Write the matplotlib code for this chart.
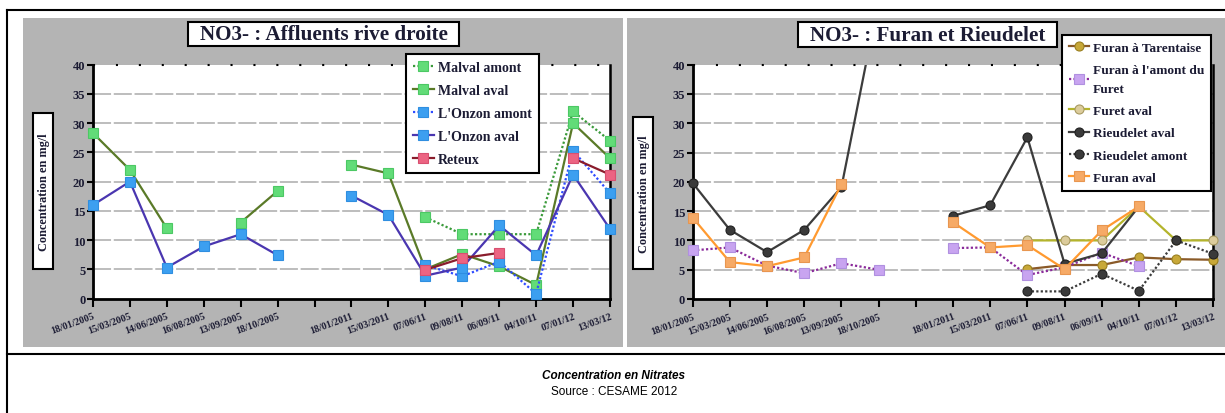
import numpy as np
import matplotlib
matplotlib.use('Agg')
import matplotlib.pyplot as plt
from matplotlib.patches import Rectangle
from matplotlib.lines import Line2D
from matplotlib.transforms import Bbox, TransformedBbox

nan = np.nan

categories = ['18/01/2005', '15/03/2005', '14/06/2005', '16/08/2005', '13/09/2005',
              '18/10/2005', '', '18/01/2011', '15/03/2011', '07/06/11', '09/08/11',
              '06/09/11', '04/10/11', '07/01/12', '13/03/12']

# Left chart: NO3- : Affluents rive droite
malval_amont = [nan, nan, nan, nan, nan, nan, nan, nan, nan, 13.9, 11.0, 11.0, 11.0, 32.0, 27.0]
malval_aval = [28.3, 22.0, 12.0, nan, 13.0, 18.4, nan, 22.9, 21.4, 5.0, 7.6, 5.5, 2.3, 30.0, 24.0]
onzon_amont = [nan, nan, nan, nan, nan, nan, nan, nan, nan, 5.7, 3.8, 6.3, 0.8, 25.3, 18.0]
onzon_aval = [16.0, 20.0, 5.3, 8.9, 11.0, 7.4, nan, 17.6, 14.3, 3.9, 5.3, 12.5, 7.4, 21.2, 11.9]
reteux = [nan, nan, nan, nan, nan, nan, nan, nan, nan, 4.9, 6.9, 7.8, nan, 24.0, 21.2]

# Right chart: NO3- : Furan et Rieudelet
furan_tarentaise = [nan, nan, nan, nan, nan, nan, nan, nan, nan, 5.1, 5.8, 5.8, 7.1, 6.8, 6.7]
furan_amont_furet = [8.3, 8.8, 5.7, 4.4, 6.1, 5.0, nan, 8.7, 8.8, 4.1, 5.4, 7.9, 5.6, nan, nan]
furet_aval = [nan, nan, nan, nan, nan, nan, nan, nan, nan, 10.0, 10.0, 10.0, 15.8, 10.0, 10.0]
rieudelet_aval = [19.8, 11.8, 8.0, 11.8, 19.1, 51.0, nan, 14.2, 16.0, 27.6, 6.0, 7.8, 15.8, nan, nan]
rieudelet_amont = [nan, nan, nan, nan, nan, nan, nan, nan, nan, 1.3, 1.3, 4.3, 1.4, 10.0, 7.7]
furan_aval = [13.9, 6.3, 5.6, 7.1, 19.6, nan, nan, 13.1, 8.8, 9.2, 5.1, 11.7, 15.8, nan, nan]

left_series = [
    ("Malval amont", malval_amont, dict(color='#3a9a3a', ls=(0, (1, 1)), marker='s', mfc='#62dc78', mec='#4cc864')),
    ("Malval aval", malval_aval, dict(color='#5a7a28', ls='-', marker='s', mfc='#62dc78', mec='#4cc864')),
    ("L'Onzon amont", onzon_amont, dict(color='#2f4cff', ls=(0, (1, 1)), marker='s', mfc='#3c9ff0', mec='#2f8ee0')),
    ("L'Onzon aval", onzon_aval, dict(color='#4a36b0', ls='-', marker='s', mfc='#3c9ff0', mec='#2f8ee0')),
    ("Reteux", reteux, dict(color='#8a1c2c', ls='-', marker='s', mfc='#ec6482', mec='#d85070')),
]
right_series = [
    ("Furan à Tarentaise", furan_tarentaise, dict(color='#8a5a28', ls='-', marker='o', mfc='#c8a838', mec='#9a8020')),
    ("Furan à l'amont du\nFuret", furan_amont_furet, dict(color='#8a2a9a', ls=(0, (1, 1)), marker='s', mfc='#c8a4f0', mec='#b090e0')),
    ("Furet aval", furet_aval, dict(color='#b4b42c', ls='-', marker='o', mfc='#dccc9c', mec='#a89a60')),
    ("Rieudelet aval", rieudelet_aval, dict(color='#3c3c3c', ls='-', marker='o', mfc='#3a3a3a', mec='#202020')),
    ("Rieudelet amont", rieudelet_amont, dict(color='#3c3c3c', ls=(0, (1, 1)), marker='o', mfc='#3a3a3a', mec='#202020')),
    ("Furan aval", furan_aval, dict(color='#ff9a30', ls='-', marker='s', mfc='#f6aa66', mec='#e89650')),
]

W, H = 1225, 414
fig = plt.figure(figsize=(W / 100, H / 100), dpi=100)
fig.patch.set_facecolor('white')


def fx(x):
    return x / W


def fy(y):
    return 1 - y / H


def rect(x0, y0, x1, y1, **kw):
    r = Rectangle((fx(x0), fy(y1)), fx(x1) - fx(x0), fy(y0) - fy(y1),
                  transform=fig.transFigure, **kw)
    fig.add_artist(r)
    return r


def hline(x0, x1, y, **kw):
    fig.add_artist(Line2D([fx(x0), fx(x1)], [fy(y), fy(y)], transform=fig.transFigure, **kw))


def vline(x, y0, y1, **kw):
    fig.add_artist(Line2D([fx(x), fx(x)], [fy(y0), fy(y1)], transform=fig.transFigure, **kw))


TXT = '#1c1c34'
serif = 'Liberation Serif'

# outer frame and panels
rect(22.5, 19, 623, 348, facecolor='#b4b4b4', edgecolor='none', zorder=-5)
rect(627, 19, 1226, 348, facecolor='#b4b4b4', edgecolor='none', zorder=-5)
hline(7, 1225, 11, color='black', lw=1.5)
hline(7, 1225, 355, color='black', lw=1.5)
vline(7.3, 11, 414, color='black', lw=1.5)

fig.text(fx(614), fy(376), 'Concentration en Nitrates', ha='center', va='center',
         fontsize=8.5, fontweight='bold', fontstyle='italic', family=['Liberation Sans Narrow', 'Liberation Sans'], color='black')
fig.text(fx(614), fy(392), 'Source : CESAME 2012', ha='center', va='center',
         fontsize=8.5, family=['Liberation Sans Narrow', 'Liberation Sans'], color='black')

x = np.arange(len(categories))


def setup_axes(px0, px1, py_top, py_bot):
    ax = fig.add_axes([fx(px0), fy(py_bot), fx(px1) - fx(px0), fy(py_top) - fy(py_bot)])
    ax.set_facecolor('white')
    ax.set_xlim(0, len(categories) - 1)
    ax.set_ylim(0, 40)
    ax.set_yticks(np.arange(0, 41, 5))
    ax.set_yticklabels([str(v) for v in range(0, 41, 5)], family=serif, fontweight='bold',
                       fontsize=9, color=TXT)
    ax.set_xticks(x)
    ax.set_xticklabels(categories, rotation=20, ha='right', va='top', rotation_mode='anchor',
                       family=serif, fontsize=7.2, fontweight='bold', color=TXT)
    ax.tick_params(axis='y', direction='out', length=4, width=1.5, pad=1.5, colors='black', labelcolor=TXT)
    ax.tick_params(axis='x', direction='out', length=6, width=1.5, pad=3, colors='black', labelcolor=TXT)
    ax.spines['top'].set_visible(False)
    for s in ('left', 'bottom'):
        ax.spines[s].set_linewidth(2)
        ax.spines[s].set_color('black')
    ax.spines['right'].set_linewidth(1.8)
    ax.spines['right'].set_color('black')
    for v in range(5, 40, 5):
        ax.axhline(v, color='#b8b8b8', lw=1.3, dashes=(10, 1.5), zorder=0.5)
    ax.axhline(40, color='black', lw=1.5, dashes=(1, 10), clip_on=False, zorder=0.5)
    return ax


def draw(ax, series):
    clip = TransformedBbox(Bbox([[-0.05, -0.05], [1.05, 1.0]]), ax.transAxes)
    handles = []
    for name, vals, st in series:
        ln, = ax.plot(x, vals, color=st['color'], ls=st['ls'], lw=1.6, marker=st['marker'],
                      markersize=6.5, markerfacecolor=st['mfc'], markeredgecolor=st['mec'],
                      markeredgewidth=0.8, label=name, zorder=3)
        ln.set_clip_box(clip)
        handles.append(ln)
    return handles


def legend(ax, handles, px, py, spacing, size):
    leg = ax.legend(handles=handles, loc='upper left', bbox_to_anchor=(fx(px), fy(py)),
                    bbox_transform=fig.transFigure, frameon=True, fancybox=False,
                    edgecolor='black', framealpha=1, borderaxespad=0,
                    prop=dict(family=serif, weight='bold', size=size), labelcolor=TXT,
                    handlelength=1.5, handletextpad=0.3, labelspacing=spacing, borderpad=0.5)
    leg.get_frame().set_linewidth(1.5)
    leg.set_zorder(10)
    return leg


def title_box(x0, y0, x1, y1, text):
    rect(x0, y0, x1, y1, facecolor='white', edgecolor='black', lw=1.5, zorder=4)
    fig.text(fx((x0 + x1) / 2), fy((y0 + y1) / 2 + 0.5), text, ha='center', va='center',
             family=serif, fontweight='bold', fontsize=15.2, color=TXT, zorder=5)


def ylabel_box(x0, y0, x1, y1):
    rect(x0, y0, x1, y1, facecolor='white', edgecolor='black', lw=1.5, zorder=4)
    fig.text(fx((x0 + x1) / 2 + 0.5), fy((y0 + y1) / 2), 'Concentration en mg/l', ha='center',
             va='center', rotation=90, family=serif, fontweight='bold', fontsize=8.8,
             color=TXT, zorder=5)


ax1 = setup_axes(93, 610, 65.7, 299.5)
h1 = draw(ax1, left_series)
legend(ax1, h1, 406, 55, 0.72, 10)
title_box(188, 23, 459, 47, 'NO3- : Affluents rive droite')
ylabel_box(33, 114, 53, 270)

ax2 = setup_axes(692.7, 1213.3, 65.7, 300)
h2 = draw(ax2, right_series)
leg2 = legend(ax2, h2, 1062, 36, 0.75, 9.6)
leg2.get_texts()[1].set_linespacing(1.75)
title_box(798, 23, 1057, 48, 'NO3- : Furan et Rieudelet')
ylabel_box(633, 118, 653, 270)

fig.savefig('out.png', dpi=100, facecolor='white')
